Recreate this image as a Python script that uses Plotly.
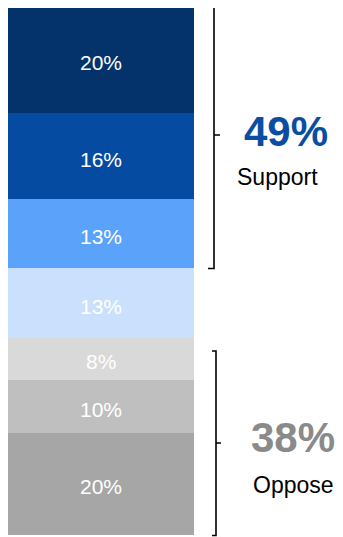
import plotly.graph_objects as go

# Segments listed bottom -> top (stack order)
segment_names = ["Strongly oppose", "Somewhat oppose", "Lean oppose",
                 "Lean support", "Somewhat support", "Strongly support", "Very strongly support"]
segment_values = [19.3, 10.0, 7.9, 13.2, 13.0, 16.3, 20.2]
segment_labels = ["20%", "10%", "8%", "13%", "13%", "16%", "20%"]
segment_colors = ["#A6A6A6", "#BFBFBF", "#D9D9D9", "#CAE0FD", "#5AA2FA", "#054BA2", "#04336B"]

group_names = ["Support", "Oppose"]
group_totals = ["49%", "38%"]
group_colors = ["#0A4DA2", "#8A8A8A"]

# page body has an 8px default margin; the figure is sized to the remaining window
OFF = 8
W, H = 343 - OFF, 537 - OFF
FONT = "Arial, Liberation Sans, sans-serif"

fig = go.Figure()
for name, v, col in zip(segment_names, segment_values, segment_colors):
    fig.add_trace(go.Bar(
        x=[0], y=[v], name=name, width=1,
        marker=dict(color=col, line=dict(width=0)),
        hoverinfo="skip",
    ))

def px(x):
    return (x - OFF) / W

def py(y):
    return 1 - (y - OFF) / H

shapes = []
def bracket(x, y0, y1, ym, left, right):
    path = (f"M {px(x-left)},{py(y0)} L {px(x)},{py(y0)} L {px(x)},{py(y1)} L {px(x-left)},{py(y1)} "
            f"M {px(x)},{py(ym)} L {px(x+right)},{py(ym)}")
    shapes.append(dict(type="path", xref="paper", yref="paper", path=path,
                       line=dict(color="black", width=1.6)))

bracket(214, 5.5, 268.5, 135, 6, 6)
bracket(216, 351, 535.5, 443, 4, 5)

annotations = []
# segment labels at the centre of each stacked segment
base = 0.0
for v, lab in zip(segment_values, segment_labels):
    annotations.append(dict(x=0, y=base + v / 2, xref="x", yref="y", text=lab,
                            showarrow=False, xanchor="center", yanchor="middle", yshift=-3,
                            font=dict(size=21, color="white", family=FONT)))
    base += v

annotations += [
    dict(x=px(285.5), y=py(131), text=f"<b>{group_totals[0]}</b>", showarrow=False,
         xref="paper", yref="paper", xanchor="center", yanchor="middle",
         font=dict(size=42, color=group_colors[0], family=FONT)),
    dict(x=px(277.5), y=py(177), text=group_names[0], showarrow=False,
         xref="paper", yref="paper", xanchor="center", yanchor="middle",
         font=dict(size=23, color="black", family=FONT)),
    dict(x=px(292.5), y=py(437.5), text=f"<b>{group_totals[1]}</b>", showarrow=False,
         xref="paper", yref="paper", xanchor="center", yanchor="middle",
         font=dict(size=42, color=group_colors[1], family=FONT)),
    dict(x=px(293.5), y=py(485), text=group_names[1], showarrow=False,
         xref="paper", yref="paper", xanchor="center", yanchor="middle",
         font=dict(size=23, color="black", family=FONT)),
]

# bar spans page px 7..194 horizontally; values 0..total span page px 535..6
bar_l, bar_r, bar_top, bar_bot = 7 - OFF, 194 - OFF, 6 - OFF, 535 - OFF
bar_w_px = bar_r - bar_l
x_lo = -0.5 - (bar_l - 0) / bar_w_px
x_hi = 0.5 + (W - bar_r) / bar_w_px
total = sum(segment_values)
ppu = (bar_bot - bar_top) / total
y_lo = -(H - bar_bot) / ppu
y_hi = total + (bar_top - 0) / ppu

fig.update_layout(
    barmode="stack", width=W, height=H,
    margin=dict(l=0, r=0, t=0, b=0),
    paper_bgcolor="white", plot_bgcolor="white",
    showlegend=False, bargap=0,
    xaxis=dict(range=[x_lo, x_hi], visible=False, fixedrange=True),
    yaxis=dict(range=[y_lo, y_hi], visible=False, fixedrange=True),
    shapes=shapes, annotations=annotations,
)
fig.write_html("out.html", config={"displayModeBar": False})
